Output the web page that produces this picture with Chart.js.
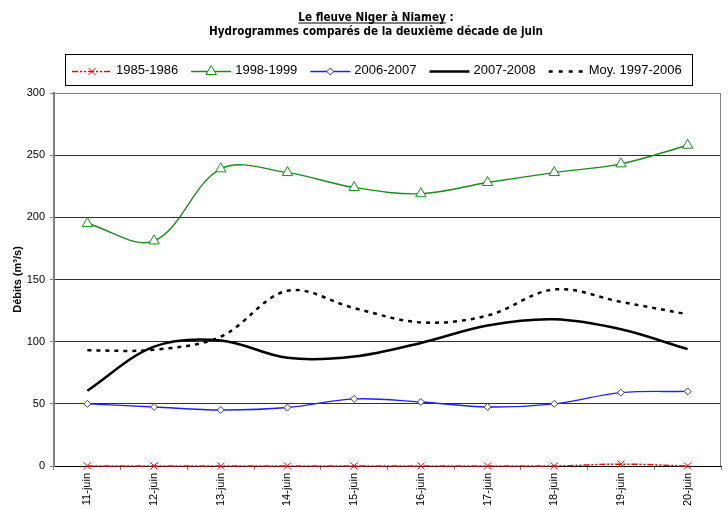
<!DOCTYPE html>
<html>
<head>
<meta charset="utf-8">
<script src="https://cdn.jsdelivr.net/npm/chart.js@4/dist/chart.umd.min.js"></script>
<style>
  html, body { margin: 0; padding: 0; background: #fff; }
  #wrap { width: 728px; height: 510px; position: relative; }
</style>
</head>
<body>
<div id="wrap"><canvas id="c" width="728" height="510"></canvas></div>
<script>
// ---- Data ----
const categories = ['11-juin','12-juin','13-juin','14-juin','15-juin','16-juin','17-juin','18-juin','19-juin','20-juin'];
const s1985 = [0, 0, 0, 0, 0, 0, 0, 0, 1.5, 0];
const s1998 = [195, 181, 239, 236, 224, 219, 228, 236, 243, 258];
const s2006 = [50, 47.5, 45, 47, 54, 51.5, 47.5, 50, 59, 60];
const s2007 = [60.5, 96, 101, 87, 88, 99, 113, 118, 110, 94];
const sMoy  = [93, 93.5, 104, 141, 127, 115.5, 121, 142, 132, 122];
const seriesNames = ['1985-1986', '1998-1999', '2006-2007', '2007-2008', 'Moy. 1997-2006'];
const titleLine1 = 'Le fleuve Niger à Niamey';
const titleLine1Suffix = ' :';
const titleLine2 = 'Hydrogrammes comparés de la deuxième décade de juin';
const yAxisTitle = 'Débits (m³/s)';
const yMin = 0, yMax = 300, yStep = 50;

const FONT = '"Liberation Sans", Arial, sans-serif';
const TITLE_FONT = '"Liberation Sans Narrow", "Arial Narrow", "DejaVu Sans Condensed", "Liberation Sans", sans-serif';

// dataset styles (legend reuses them)
const styles = [
  { color: '#ff0000', width: 1.5, dash: [6, 2, 2, 2, 2, 2], point: 'crossRot', radius: 5, pbg: '#ff0000', pborder: '#ff0000' },
  { color: '#1a8c1a', width: 1.4, dash: [], point: 'triangle', radius: 6, pbg: '#ffffff', pborder: '#1a8c1a' },
  { color: '#2020ff', width: 1.4, dash: [], point: 'rectRot', radius: 3.5, pbg: '#ffffff', pborder: '#404040' },
  { color: '#000000', width: 2.5, dash: [], point: false, radius: 0 },
  { color: '#000000', width: 2.5, dash: [4, 5], point: false, radius: 0 }
];
const values = [s1985, s1998, s2006, s2007, sMoy];

const datasets = values.map((v, i) => ({
  label: seriesNames[i],
  data: v,
  borderColor: styles[i].color,
  borderWidth: styles[i].width,
  borderDash: styles[i].dash,
  tension: 0.35,
  fill: false,
  clip: false,
  pointStyle: styles[i].point,
  pointRadius: styles[i].radius,
  pointBackgroundColor: styles[i].pbg,
  pointBorderColor: styles[i].pborder,
  pointBorderWidth: 1
}));

function drawMarker(ctx, st, x, y) {
  if (!st.point) return;
  Chart.helpers.drawPoint(ctx, {
    pointStyle: st.point, radius: st.radius, rotation: 0, borderWidth: 1
  }, x, y);
}

const decor = {
  id: 'decor',
  afterDraw(chart) {
    const ctx = chart.ctx;
    const a = chart.chartArea;
    ctx.save();
    // plot area border (top & right)
    ctx.strokeStyle = '#808080';
    ctx.lineWidth = 1;
    ctx.setLineDash([]);
    ctx.beginPath();
    ctx.moveTo(a.left, Math.round(a.top) + 0.5);
    ctx.lineTo(Math.round(a.right) - 0.5, Math.round(a.top) + 0.5);
    ctx.lineTo(Math.round(a.right) - 0.5, a.bottom);
    ctx.stroke();

    // ---- Title ----
    ctx.fillStyle = '#000';
    ctx.textBaseline = 'alphabetic';
    ctx.textAlign = 'left';
    ctx.font = 'bold 20px ' + TITLE_FONT;
    const w20 = ctx.measureText(titleLine2).width;
    const tsize = Math.min(14, 20 * 334 / w20);
    ctx.font = 'bold ' + tsize.toFixed(2) + 'px ' + TITLE_FONT;
    const cx = 376;
    const w1a = ctx.measureText(titleLine1).width;
    const w1 = ctx.measureText(titleLine1 + titleLine1Suffix).width;
    const x1 = cx - w1 / 2;
    ctx.fillText(titleLine1 + titleLine1Suffix, x1, 21);
    ctx.fillRect(x1, 22.5, w1a, 1);
    const w2 = ctx.measureText(titleLine2).width;
    ctx.fillText(titleLine2, cx - w2 / 2, 35);

    // ---- Legend ----
    const L = { x: 65, y: 54, w: 627, h: 31 };
    ctx.strokeStyle = '#000';
    ctx.lineWidth = 1;
    ctx.strokeRect(L.x + 0.5, L.y + 0.5, L.w, L.h);
    ctx.font = '13px ' + FONT;
    ctx.textBaseline = 'middle';
    const ly = L.y + L.h / 2 + 1;
    let x = 72;
    seriesNames.forEach((name, i) => {
      const st = styles[i];
      const sl = i === 4 ? 36 : 40;
      ctx.strokeStyle = st.color;
      ctx.lineWidth = st.width;
      ctx.setLineDash(i === 4 ? [4, 6] : st.dash);
      ctx.beginPath();
      ctx.moveTo(x, Math.round(ly) + 0.5);
      ctx.lineTo(x + sl, Math.round(ly) + 0.5);
      ctx.stroke();
      ctx.setLineDash([]);
      if (st.point) {
        ctx.strokeStyle = st.pborder;
        ctx.fillStyle = st.pbg;
        ctx.lineWidth = 1;
        drawMarker(ctx, st, x + sl / 2, Math.round(ly) + 0.5);
      }
      ctx.fillStyle = '#000';
      ctx.fillText(name, x + sl + 4, ly);
      x = x + sl + 4 + ctx.measureText(name).width + 13;
    });
    ctx.restore();
  }
};

new Chart(document.getElementById('c'), {
  type: 'line',
  data: { labels: categories, datasets },
  options: {
    responsive: false,
    animation: false,
    devicePixelRatio: 1,
    layout: { padding: { top: 93, right: 4, left: 0, bottom: 0 } },
    plugins: {
      legend: { display: false },
      title: { display: false },
      tooltip: { enabled: false }
    },
    scales: {
      x: {
        type: 'category',
        offset: true,
        grid: { offset: true, drawOnChartArea: false, drawTicks: true, tickLength: 4, tickColor: '#808080' },
        border: { display: true, color: '#000', width: 1 },
        ticks: { minRotation: 90, maxRotation: 90, autoSkip: false, color: '#000', padding: 3, font: { family: FONT, size: 11 } },
        afterFit(s) { s.height = 44; }
      },
      y: {
        min: yMin, max: yMax,
        ticks: { stepSize: yStep, color: '#000', padding: 5, font: { family: FONT, size: 11 } },
        grid: {
          color: (c) => (c.tick && c.tick.value === yMax) ? '#808080' : (c.tick && c.tick.value === 0 ? '#000' : '#303030'),
          lineWidth: 1, tickColor: '#808080', tickLength: 4, drawTicks: true
        },
        border: { display: true, color: '#808080', width: 2 },
        title: { display: true, text: yAxisTitle, color: '#000', font: { family: FONT, size: 11, weight: 'bold' }, padding: { top: 11, bottom: 0 } },
        afterFit(s) { s.width = 54; }
      }
    }
  },
  plugins: [decor]
});
</script>
</body>
</html>
